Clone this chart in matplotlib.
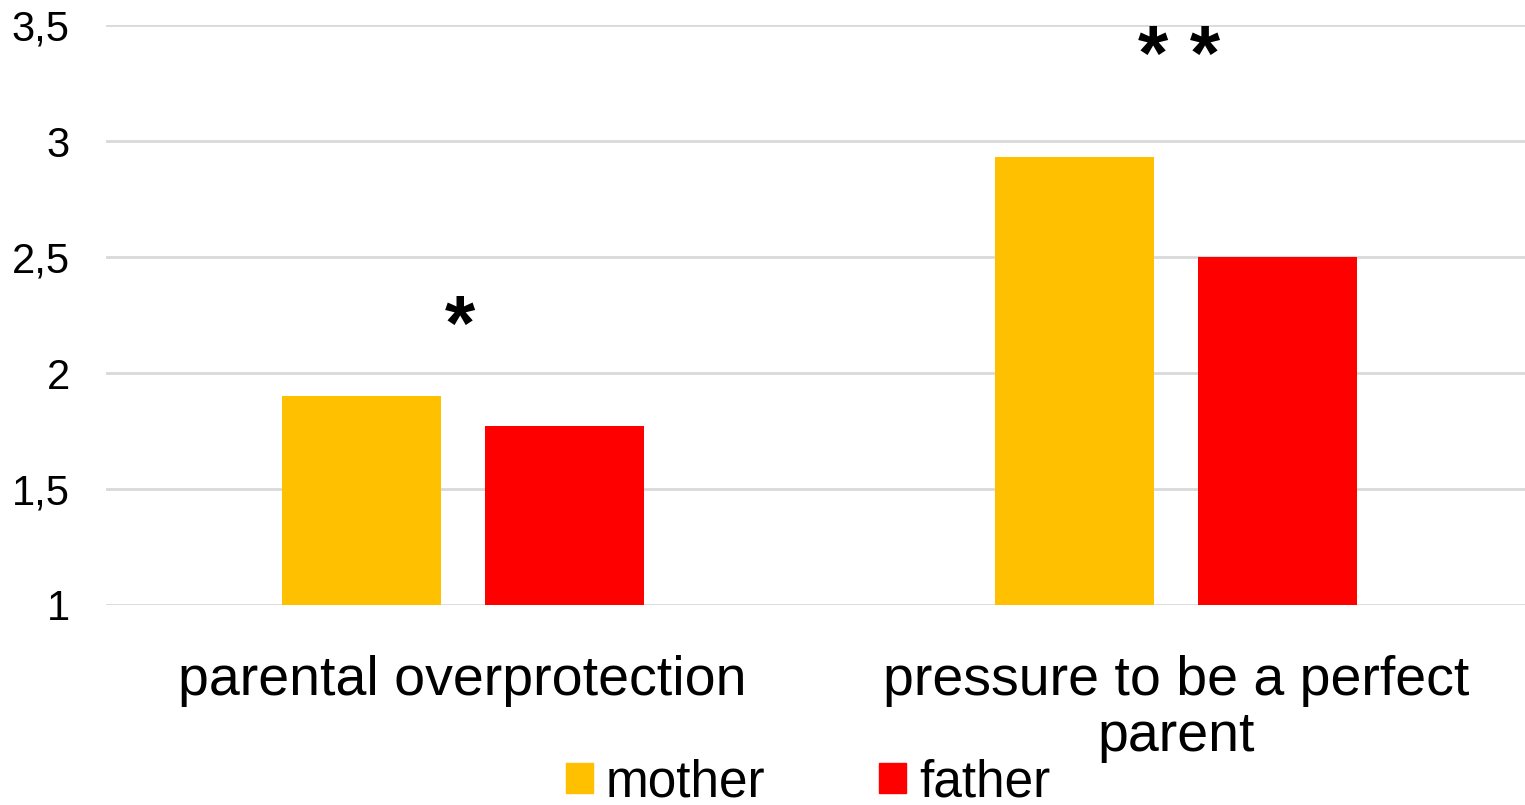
import numpy as np
import matplotlib.pyplot as plt
from matplotlib.patches import Patch

# data
categories = ['parental overprotection', 'pressure to be a perfect\nparent']
mother = [1.90, 2.93]
father = [1.77, 2.50]
stars = ['*', '* *']
yticks = [1, 1.5, 2, 2.5, 3, 3.5]
ytick_labels = ['1', '1,5', '2', '2,5', '3', '3,5']

plt.rcParams['font.family'] = ['Liberation Sans', 'DejaVu Sans']

fig = plt.figure(figsize=(15.25, 8.05), dpi=100)
W, H = 1525, 805
ax = fig.add_axes([106 / W, 1 - 605 / H, (1533 - 106) / W, 580 / H])

x = np.arange(len(categories))
w = 0.223
ax.bar(x - 0.142, np.array(mother) - 1, w, bottom=1, color='#FFC000', label='mother', zorder=3)
ax.bar(x + 0.142, np.array(father) - 1, w, bottom=1, color='#FF0000', label='father', zorder=3)

# significance marks
ax.text(x[0] - 0.004, 2.345, stars[0], ha='center', va='top', fontsize=56, fontweight='bold')
ax.text(x[1] + 0.004, 3.51, stars[1], ha='center', va='top', fontsize=56, fontweight='bold',
        clip_on=False)

ax.set_xlim(-0.5, 1.5)
ax.set_ylim(1, 3.5)
ax.set_yticks(yticks)
ax.set_yticklabels(ytick_labels, fontsize=30)
ax.set_xticks(x)
ax.set_xticklabels(categories, fontsize=40, linespacing=1.1)
ax.tick_params(axis='y', length=0, pad=26)
ax.tick_params(axis='x', length=0, pad=36)
ax.grid(axis='y', color='#D9D9D9', linewidth=2, zorder=0)
for s in ax.spines.values():
    s.set_visible(False)

handles = [Patch(color='#FFC000', label='mother'), Patch(color='#FF0000', label='father')]
fig.legend(handles=handles, loc='center', bbox_to_anchor=(808 / W, 1 - 783 / H),
           ncol=2, frameon=False, fontsize=37, handlelength=0.53, handleheight=0.53,
           handletextpad=0.25, columnspacing=2.2, borderpad=0)

fig.savefig('out.png', dpi=100)
